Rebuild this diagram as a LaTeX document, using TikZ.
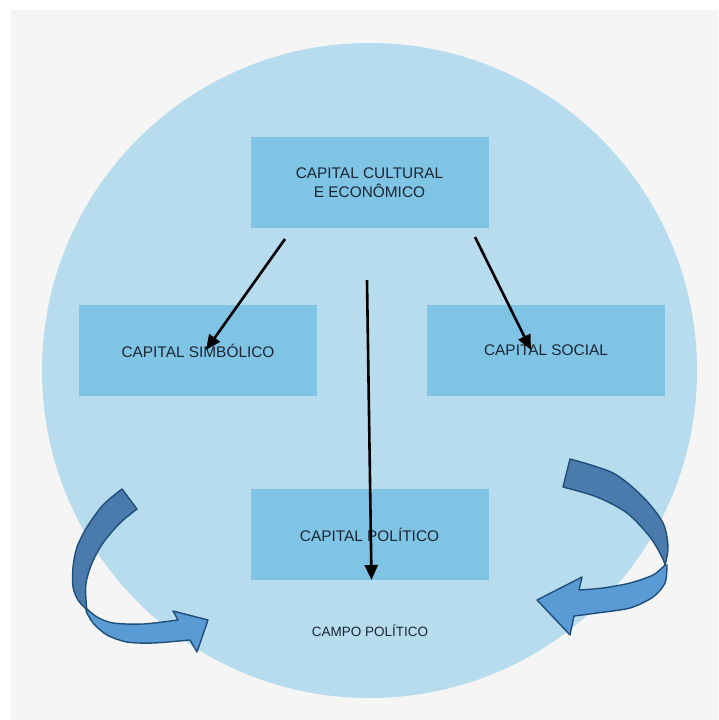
\documentclass[tikz,border=0pt]{standalone}
\usepackage{fontspec}
\setmainfont{Liberation Sans}
\usetikzlibrary{arrows.meta}
\definecolor{bggray}{HTML}{F5F5F5}
\definecolor{circblue}{HTML}{B7DCEE}
\definecolor{boxblue}{HTML}{80C4E5}
\definecolor{txtcol}{HTML}{1A2633}
\definecolor{darkband}{HTML}{4A7BAC}
\definecolor{lightband}{HTML}{5B9BD5}
\definecolor{bandline}{HTML}{1F4E79}
\tikzset{
  capbox/.style={fill=boxblue, draw=none, minimum width=238pt, minimum height=91pt,
    inner sep=0pt, align=center, text=txtcol, font=\fontsize{15.4}{18.5}\selectfont},
  link/.style={draw=black, line width=2.6pt, -{Triangle[length=15pt,width=13pt]}},
  bandback/.style={fill=darkband, draw=bandline, line width=1.4pt, line join=round},
  bandfront/.style={fill=lightband, draw=bandline, line width=1.4pt, line join=round}
}
\begin{document}
\begin{tikzpicture}[x=1pt,y=-1pt]
\useasboundingbox (0,0) rectangle (718,720);
\fill[white] (0,0) rectangle (718,720);
\fill[bggray] (11,10) rectangle (718,720);
\fill[circblue] (369.5,370.5) circle (327.5);

\node[capbox] (cult) at (369.5,182.5) {CAPITAL CULTURAL\\E ECONÔMICO};
\node[capbox] (simb) at (198,350.5) {CAPITAL SIMBÓLICO};
\node[capbox] (soc) at (546,350.5) {CAPITAL SOCIAL};
\node[capbox] (pol) at (369.5,534.5) {CAPITAL POLÍTICO};
\node[text=txtcol, font=\fontsize{13.5}{16}\selectfont] (campo) at (370,631) {CAMPO POLÍTICO};

\coordinate (c1) at (285,239);
\coordinate (s1) at (206,350);
\coordinate (c2) at (475,237);
\coordinate (o1) at (531,350);
\coordinate (c3) at (367,280);
\coordinate (p1) at (371.5,580);
\draw[link] (c1) -- (s1);
\draw[link] (c2) -- (o1);
\draw[link] (c3) -- (p1);

% left curved arrow
\draw[bandfront] plot[smooth] coordinates {(87,609) (97,617) (113,623) (143,624) (178,620)}
  -- (173,611) -- (208,620) -- (197,652) -- (190,640)
  -- plot[smooth] coordinates {(190,640) (153,643) (127,642) (107,635) (93,623) (86,611)} -- cycle;
\draw[bandback] plot[smooth] coordinates {(122,489) (103,505) (87,527) (77,547) (73,567) (73,587) (78,600) (87,610)}
  -- plot[smooth] coordinates {(87,610) (86,600) (86,583) (92,563) (103,543) (120,523) (137,509)} -- cycle;

% right curved arrow
\draw[bandfront] plot[smooth] coordinates {(665,565) (653,575) (630,583) (603,588) (579,590)}
  -- (582,577) -- (537,600) -- (570,635) -- (574,616)
  -- plot[smooth] coordinates {(574,616) (597,613) (630,608) (653,597) (665,583) (667,565)} -- cycle;
\draw[bandback] plot[smooth] coordinates {(570,459) (613,473) (643,497) (663,523) (668,547) (665,565)}
  -- plot[smooth] coordinates {(665,565) (662,557) (650,537) (627,513) (597,497) (563,487)} -- cycle;
\end{tikzpicture}
\end{document}
